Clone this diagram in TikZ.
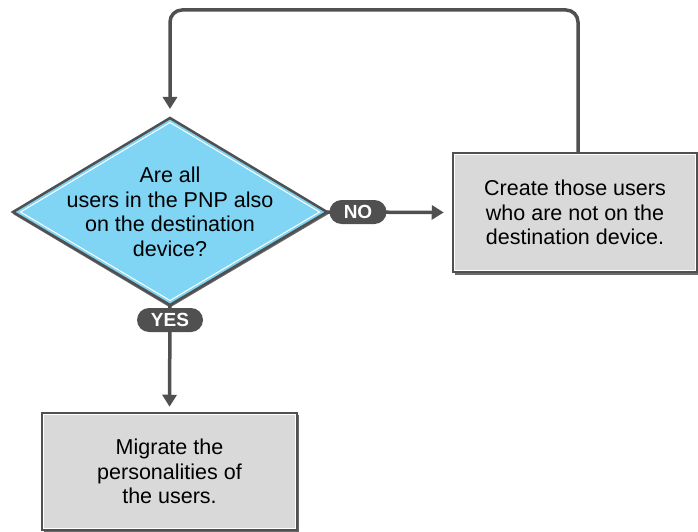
\documentclass[tikz,border=0pt]{standalone}
\usepackage{fontspec}
\setmainfont{Liberation Sans}
\usetikzlibrary{shapes.misc,arrows.meta}
\definecolor{linegray}{HTML}{505050}
\definecolor{shadowgray}{HTML}{6A6A6A}
\definecolor{boxgray}{HTML}{D9D9D9}
\definecolor{diablue}{HTML}{80D4F4}
\tikzset{
  conn/.style={draw=linegray, line width=3.5pt, -{Triangle[length=12pt,width=14pt]}},
  bodytext/.style={align=center, font=\fontsize{21.5}{24.5}\selectfont, text=black},
  stepbox/.style={rectangle, fill=boxgray, draw=linegray, line width=2.5pt, bodytext},
  pill/.style={rounded rectangle, fill=linegray, text=white, inner sep=0pt,
    minimum height=24pt, font=\bfseries\fontsize{19}{21}\selectfont},
}
\begin{document}
\begin{tikzpicture}[x=1pt,y=-1pt]
\useasboundingbox (0,0) rectangle (698,532);
% decision diamond corners
\coordinate (diaN) at (170,118);
\coordinate (diaE) at (327,212);
\coordinate (diaS) at (170,305);
\coordinate (diaW) at (13,212);
% shadows
\fill[shadowgray] (170,120) -- (328.5,214) -- (170,307.5) -- (13,214) -- cycle;
\fill[shadowgray] (455,155) rectangle (699,275);
\fill[shadowgray] (44,415) rectangle (299,533);
% decision
\filldraw[fill=diablue, draw=linegray, line width=2.5pt, line join=miter]
  (diaN) -- (diaE) -- (diaS) -- (diaW) -- cycle;
\draw[white, line width=1pt] (170,122.5) -- (319.5,212) -- (170,300.5) -- (20.5,212) -- cycle;
\node[bodytext] (dia) at (170,212) {Are all\\users in the PNP also\\on the destination\\device?};
% right box
\node[stepbox, minimum width=244pt, minimum height=119pt] (create) at (575,212.5)
  {Create those users\\who are not on the\\destination device.};
\draw[white, line width=1pt] ([shift={(2.75,2.75)}]create.north west) rectangle ([shift={(-2.75,-2.75)}]create.south east);
% bottom box
\node[stepbox, minimum width=255pt, minimum height=117pt] (migrate) at (169.5,471.5)
  {Migrate the\\personalities of\\the users.};
\draw[white, line width=1pt] ([shift={(2.75,2.75)}]migrate.north west) rectangle ([shift={(-2.75,-2.75)}]migrate.south east);
% connectors
\coordinate (loopstart) at (578,153);
\coordinate (looptop) at (170,10);
\draw[conn, rounded corners=12pt, shorten >=9pt] (loopstart) |- (looptop) -- (diaN);
\draw[conn, shorten >=8pt] (diaE) -- (create.west);
\draw[conn, shorten >=5pt] (diaS) -- (migrate.north);
% labels
\node[pill, minimum width=57pt] (no) at (358,212) {NO};
\node[pill, minimum width=66pt] (yes) at (170,320) {YES};
\end{tikzpicture}
\end{document}
